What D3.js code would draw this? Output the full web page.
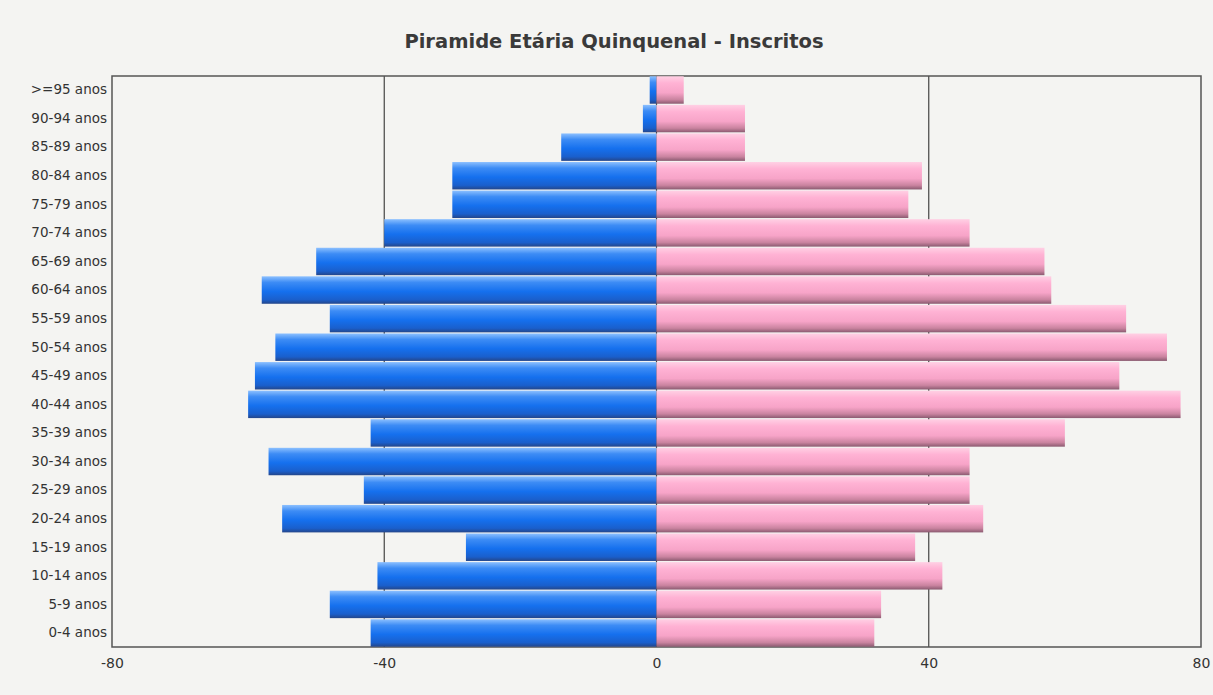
<!DOCTYPE html>
<html>
<head>
<meta charset="utf-8">
<script src="https://cdn.jsdelivr.net/npm/d3@7"></script>
<style>
  html, body { margin: 0; padding: 0; background: #f4f4f2; }
  svg { display: block; }
</style>
</head>
<body>
<svg id="chart" width="1213" height="695"></svg>
<script>
const categories = [">=95 anos","90-94 anos","85-89 anos","80-84 anos","75-79 anos","70-74 anos","65-69 anos","60-64 anos","55-59 anos","50-54 anos","45-49 anos","40-44 anos","35-39 anos","30-34 anos","25-29 anos","20-24 anos","15-19 anos","10-14 anos","5-9 anos","0-4 anos"];
const maleValues = [-1,-2,-14,-30,-30,-40,-50,-58,-48,-56,-59,-60,-42,-57,-43,-55,-28,-41,-48,-42];
const femaleValues = [4,13,13,39,37,46,57,58,69,75,68,77,60,46,46,48,38,42,33,32];
const xTicks = [-80,-40,0,40,80];
const title = "Piramide Etária Quinquenal - Inscritos";

(function () {
const svg = d3.select("#chart");
const W = 1213, H = 695;
const FONT = "'DejaVu Sans',Verdana,sans-serif";
svg.append("rect").attr("width", W).attr("height", H).attr("fill", "#f4f4f2");

const pLeft = 112, pRight = 1201, pTop = 76, pBottom = 647;
const x = d3.scaleLinear().domain([-80, 80]).range([pLeft, pRight]);
const y = d3.scaleBand().domain(categories).range([pTop, pBottom]).paddingInner(0.04).paddingOuter(0.01);

const defs = svg.append("defs");
const gb = defs.append("linearGradient").attr("id","gBlue").attr("x1",0).attr("y1",0).attr("x2",0).attr("y2",1);
gb.append("stop").attr("offset","0%").attr("stop-color","#8cc0ff");
gb.append("stop").attr("offset","22%").attr("stop-color","#3d8cf5");
gb.append("stop").attr("offset","55%").attr("stop-color","#1570ee");
gb.append("stop").attr("offset","85%").attr("stop-color","#1a5fcc");
gb.append("stop").attr("offset","100%").attr("stop-color","#24468a");
const gp = defs.append("linearGradient").attr("id","gPink").attr("x1",0).attr("y1",0).attr("x2",0).attr("y2",1);
gp.append("stop").attr("offset","0%").attr("stop-color","#ffd0e4");
gp.append("stop").attr("offset","25%").attr("stop-color","#ffb2d4");
gp.append("stop").attr("offset","60%").attr("stop-color","#f7a4c8");
gp.append("stop").attr("offset","85%").attr("stop-color","#c9839f");
gp.append("stop").attr("offset","100%").attr("stop-color","#8a5a70");

// title
svg.append("text")
  .attr("x", 614).attr("y", 48)
  .attr("text-anchor", "middle")
  .attr("font-family", FONT)
  .attr("font-weight", "bold")
  .attr("font-size", 19.5)
  .attr("fill", "#3a3a3a")
  .text(title);

// grid lines
svg.append("g").selectAll("line").data(xTicks.slice(1, -1)).join("line")
  .attr("x1", d => x(d)).attr("x2", d => x(d))
  .attr("y1", pTop).attr("y2", pBottom)
  .attr("stroke", "#444").attr("stroke-width", 1.2);

// frame
svg.append("rect")
  .attr("x", pLeft).attr("y", pTop).attr("width", pRight - pLeft).attr("height", pBottom - pTop)
  .attr("fill", "none").attr("stroke", "#555").attr("stroke-width", 1.5);

// bars
svg.append("g").selectAll("rect").data(categories).join("rect")
  .attr("x", (d, i) => x(maleValues[i]))
  .attr("y", d => y(d))
  .attr("width", (d, i) => x(0) - x(maleValues[i]))
  .attr("height", y.bandwidth())
  .attr("fill", "url(#gBlue)");
svg.append("g").selectAll("rect").data(categories).join("rect")
  .attr("x", x(0))
  .attr("y", d => y(d))
  .attr("width", (d, i) => x(femaleValues[i]) - x(0))
  .attr("height", y.bandwidth())
  .attr("fill", "url(#gPink)");

// y labels
const yAxis = svg.append("g").attr("transform", `translate(${pLeft},0)`)
  .call(d3.axisLeft(y).tickSize(0).tickPadding(5));
yAxis.select(".domain").remove();
yAxis.selectAll("text")
  .attr("font-family", FONT)
  .attr("font-size", 13.5).attr("fill", "#333");

// x labels
const xAxis = svg.append("g").attr("transform", `translate(0,${pBottom})`)
  .call(d3.axisBottom(x).tickValues(xTicks).tickSize(0).tickPadding(11));
xAxis.select(".domain").remove();
xAxis.selectAll("text")
  .attr("font-family", FONT)
  .attr("font-size", 14).attr("fill", "#333")
  .text(d => String(d));
})();
</script>
</body>
</html>
